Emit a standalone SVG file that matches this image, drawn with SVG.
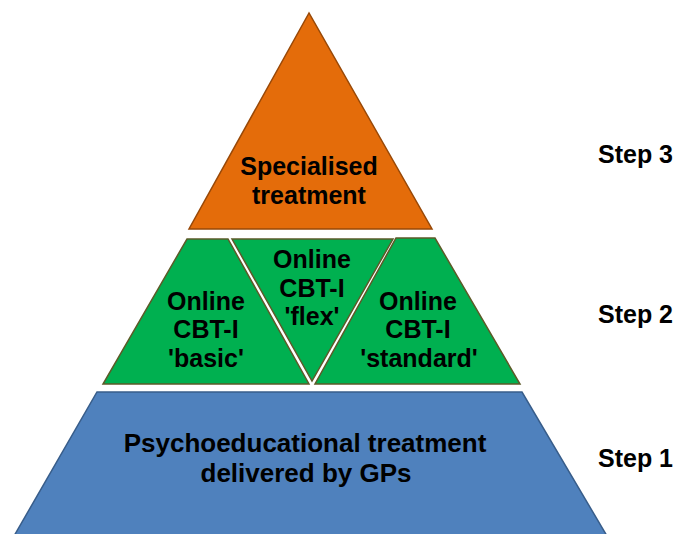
<svg xmlns="http://www.w3.org/2000/svg" width="678" height="534" viewBox="0 0 678 534">
<style>
text{font-family:"Liberation Sans",Arial,sans-serif;font-weight:bold;fill:#000;text-anchor:middle}
.t{font-size:25px}
.b{font-size:26px}
.step{font-size:25px;text-anchor:start}
.orange{fill:#E46C0A;stroke:#984807;stroke-width:1.5}
.green{fill:#00B050;stroke:#5C5A28;stroke-width:1.5}
.blue{fill:#4F81BD;stroke:#385D8A;stroke-width:1.5}
</style>
<rect width="678" height="534" fill="#fff"/>
<g id="step3">
<polygon class="orange" points="309,13 189,229 432,229"/>
<text class="t" x="309" y="175">Specialised</text>
<text class="t" x="309" y="204">treatment</text>
</g>
<g id="basic">
<polygon class="green" points="187,239 228,239 309,384 103,384"/>
<text class="t" x="206" y="310">Online</text>
<text class="t" x="206" y="338">CBT-I</text>
<text class="t" x="206" y="367">'basic'</text>
</g>
<g id="flex">
<polygon class="green" points="232,239 393,239 312,381"/>
<text class="t" x="312" y="268">Online</text>
<text class="t" x="312" y="297">CBT-I</text>
<text class="t" x="312" y="325">'flex'</text>
</g>
<g id="standard">
<polygon class="green" points="396,238 435,238 520,384 315,384"/>
<text class="t" x="418" y="310">Online</text>
<text class="t" x="418" y="338">CBT-I</text>
<text class="t" x="419" y="367">'standard'</text>
</g>
<g id="step1">
<polygon class="blue" points="97,392 522,392 607,536 14,536"/>
<text class="b" x="305" y="452">Psychoeducational treatment</text>
<text class="b" x="306" y="482">delivered by GPs</text>
</g>
<g id="labels">
<text class="step" x="598" y="163">Step 3</text>
<text class="step" x="598" y="323">Step 2</text>
<text class="step" x="598" y="467">Step 1</text>
</g>
<g id="connectors"></g>
</svg>
